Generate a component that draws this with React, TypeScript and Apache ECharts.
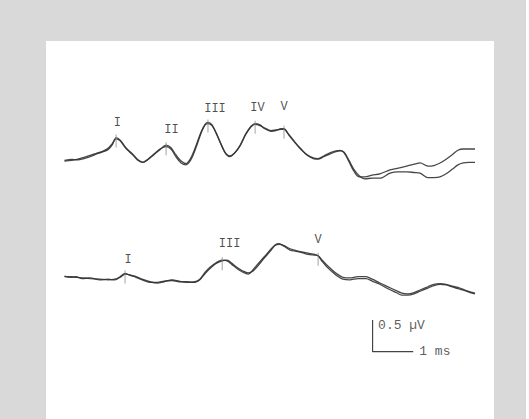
import React, { useEffect, useRef } from "react";
import * as echarts from "echarts";

// ---- data (time in ms, amplitude in µV relative to each trace's start) ----
const topTimes = [0, 0.18, 0.33, 0.48, 0.63, 0.78, 0.92, 1.07, 1.17, 1.27, 1.37, 1.51, 1.69, 1.81, 1.93, 2.05, 2.2, 2.35, 2.5, 2.62, 2.74, 2.87, 2.99, 3.11, 3.24, 3.36, 3.46, 3.53, 3.63, 3.75, 3.88, 3.97, 4.07, 4.19, 4.32, 4.46, 4.59, 4.69, 4.81, 4.93, 5.08, 5.2, 5.33, 5.4, 5.52, 5.67, 5.82, 5.97, 6.12, 6.24, 6.38, 6.53, 6.68, 6.78, 6.88, 7.0, 7.12, 7.25, 7.39, 7.57, 7.76, 8.01, 8.21, 8.42, 8.6, 8.75, 8.94, 9.09, 9.24, 9.39, 9.54, 9.68, 9.81, 9.95, 10.1];
const topRunA = [0, 0.016, 0.008, 0.03, 0.06, 0.1, 0.13, 0.17, 0.24, 0.36, 0.32, 0.2, 0.09, 0.01, -0.03, 0.01, 0.09, 0.17, 0.24, 0.2, 0.09, -0.01, -0.05, 0.04, 0.24, 0.45, 0.57, 0.6, 0.56, 0.4, 0.21, 0.1, 0.06, 0.12, 0.24, 0.42, 0.54, 0.58, 0.56, 0.5, 0.46, 0.47, 0.5, 0.5, 0.4, 0.28, 0.17, 0.09, 0.04, 0.03, 0.07, 0.12, 0.15, 0.16, 0.12, -0.02, -0.17, -0.26, -0.26, -0.23, -0.21, -0.15, -0.12, -0.09, -0.06, -0.04, -0.09, -0.08, -0.04, 0.02, 0.09, 0.16, 0.18, 0.18, 0.18];
const topRunB = [-0.01, 0.0, 0.02, 0.05, 0.08, 0.11, 0.14, 0.19, 0.26, 0.34, 0.31, 0.19, 0.08, 0.0, -0.03, 0.02, 0.1, 0.18, 0.22, 0.18, 0.06, -0.04, -0.07, 0.01, 0.21, 0.43, 0.56, 0.58, 0.55, 0.41, 0.22, 0.11, 0.07, 0.12, 0.23, 0.41, 0.53, 0.57, 0.55, 0.51, 0.47, 0.48, 0.49, 0.49, 0.41, 0.29, 0.18, 0.08, 0.03, 0.02, 0.06, 0.1, 0.14, 0.15, 0.13, 0.0, -0.14, -0.24, -0.29, -0.28, -0.28, -0.2, -0.18, -0.18, -0.19, -0.2, -0.27, -0.27, -0.26, -0.21, -0.14, -0.07, -0.04, -0.03, -0.03];

const bottomTimes = [0, 0.14, 0.28, 0.43, 0.63, 0.87, 1.07, 1.24, 1.37, 1.49, 1.61, 1.76, 1.91, 2.1, 2.28, 2.45, 2.65, 2.82, 3.01, 3.21, 3.33, 3.46, 3.58, 3.73, 3.88, 4.0, 4.12, 4.24, 4.39, 4.52, 4.64, 4.76, 4.91, 5.06, 5.18, 5.28, 5.4, 5.55, 5.7, 5.84, 5.99, 6.16, 6.24, 6.34, 6.46, 6.58, 6.71, 6.85, 7.02, 7.22, 7.42, 7.57, 7.76, 7.96, 8.16, 8.3, 8.45, 8.6, 8.75, 8.94, 9.09, 9.24, 9.39, 9.54, 9.68, 9.85, 9.98, 10.1];
const bottomRunA = [0, 0.0, -0.01, -0.02, -0.03, -0.04, -0.05, -0.04, 0.0, 0.05, 0.02, 0.0, -0.04, -0.08, -0.1, -0.08, -0.05, -0.07, -0.09, -0.08, -0.04, 0.07, 0.15, 0.22, 0.26, 0.25, 0.19, 0.13, 0.07, 0.04, 0.11, 0.2, 0.31, 0.42, 0.5, 0.52, 0.48, 0.42, 0.4, 0.38, 0.35, 0.34, 0.33, 0.26, 0.18, 0.11, 0.04, -0.01, -0.02, 0.0, 0.0, -0.04, -0.1, -0.16, -0.22, -0.26, -0.27, -0.25, -0.21, -0.16, -0.12, -0.11, -0.12, -0.15, -0.17, -0.21, -0.24, -0.26];
const bottomRunB = [0.01, -0.01, 0.0, -0.03, -0.02, -0.05, -0.04, -0.05, -0.01, 0.04, 0.03, -0.01, -0.05, -0.09, -0.09, -0.07, -0.06, -0.08, -0.08, -0.09, -0.05, 0.05, 0.13, 0.21, 0.25, 0.26, 0.21, 0.15, 0.09, 0.06, 0.09, 0.17, 0.29, 0.4, 0.49, 0.51, 0.49, 0.44, 0.41, 0.39, 0.37, 0.35, 0.33, 0.24, 0.15, 0.08, 0.01, -0.04, -0.05, -0.03, -0.03, -0.07, -0.12, -0.19, -0.25, -0.29, -0.29, -0.27, -0.23, -0.18, -0.14, -0.12, -0.13, -0.16, -0.19, -0.22, -0.25, -0.27];

// trace baselines on the shared amplitude axis (µV)
const TOP_BASE = 3.147;
const BOTTOM_BASE = 1.314;

// wave peaks
const topPeakNames = ["I", "II", "III", "IV", "V"];
const topPeakTimes = [1.27, 2.5, 3.53, 4.69, 5.4];
const topPeakAmps = [0.36, 0.24, 0.6, 0.58, 0.5];
const bottomPeakNames = ["I", "III", "V"];
const bottomPeakTimes = [1.49, 3.88, 6.24];
const bottomPeakAmps = [0.05, 0.26, 0.33];

// calibration bar
const scaleBarTime = 1; // ms
const scaleBarAmp = 0.5; // µV
const scaleBarStart = [7.58, 0.131];
const scaleLabels = ["0.5 µV", "1 ms"];

// layout only (pixel shifts of the peak labels)
const topLabelShift = [[1.3, -14.5], [5.4, -15.5], [7, -13.5], [2.3, -15.5], [0, -21.5]];
const bottomLabelShift = [[3, -14], [7.4, -16], [0, -16]];

const FONT = "'Liberation Mono', 'DejaVu Sans Mono', monospace";
const TRACE = { color: "#333333", width: 1.3, opacity: 0.9 };

function trace(times: number[], vals: number[], base: number) {
  return {
    type: "line",
    data: times.map((t, i) => [t, base + vals[i]]),
    showSymbol: false,
    smooth: 0.3,
    silent: true,
    lineStyle: TRACE,
    z: 2,
  };
}

export default function App() {
  const ref = useRef<HTMLDivElement>(null);
  useEffect(() => {
    document.body.style.margin = "0";
    if (!ref.current) return;
    const chart = echarts.init(ref.current, undefined, { renderer: "svg" });

    const tickData = [
      ...topPeakTimes.map((t, i) => [t, TOP_BASE + topPeakAmps[i]]),
      ...bottomPeakTimes.map((t, i) => [t, BOTTOM_BASE + bottomPeakAmps[i]]),
    ];
    const labelData = [
      ...topPeakNames.map((n, i) => ({
        name: n,
        value: [topPeakTimes[i], TOP_BASE + topPeakAmps[i]],
        label: { offset: topLabelShift[i] },
      })),
      ...bottomPeakNames.map((n, i) => ({
        name: n,
        value: [bottomPeakTimes[i], BOTTOM_BASE + bottomPeakAmps[i]],
        label: { offset: bottomLabelShift[i] },
      })),
    ];
    const [sx, sy] = scaleBarStart;

    const option = {
      animation: false,
      backgroundColor: "#d9d9d9",
      graphic: [
        { type: "rect", z: -10, shape: { x: 46, y: 41, width: 448, height: 378 }, style: { fill: "#ffffff" } },
        { type: "rect", z: -10, shape: { x: 526, y: 0, width: 3, height: 419 }, style: { fill: "#ffffff" } },
      ],
      grid: { left: 64.5, right: 54, top: 100, bottom: 59 },
      xAxis: { type: "value", min: 0, max: 10.1, show: false },
      yAxis: { type: "value", min: 0, max: 4.1, show: false },
      series: [
        trace(topTimes, topRunA, TOP_BASE),
        trace(topTimes, topRunB, TOP_BASE),
        trace(bottomTimes, bottomRunA, BOTTOM_BASE),
        trace(bottomTimes, bottomRunB, BOTTOM_BASE),
        {
          type: "scatter",
          symbol: "rect",
          symbolSize: [1, 13],
          symbolOffset: [0, 3.5],
          itemStyle: { color: "#8c8c8c" },
          data: tickData,
          silent: true,
          z: 3,
        },
        {
          type: "scatter",
          symbolSize: 1,
          itemStyle: { color: "rgba(0,0,0,0)" },
          data: labelData,
          silent: true,
          z: 4,
          label: {
            show: true,
            position: "inside",
            formatter: (p: any) => p.name,
            fontFamily: FONT,
            fontSize: 12,
            color: "#1e1e1e",
            textBorderWidth: 0,
          },
        },
        {
          type: "line",
          data: [
            [sx, sy + scaleBarAmp],
            [sx, sy],
            [sx + scaleBarTime, sy],
          ],
          showSymbol: false,
          silent: true,
          lineStyle: { color: "#444444", width: 1.2 },
          z: 2,
        },
        {
          type: "scatter",
          symbolSize: 1,
          itemStyle: { color: "rgba(0,0,0,0)" },
          silent: true,
          data: [
            { name: scaleLabels[0], value: [sx, sy + scaleBarAmp - 0.08], label: { distance: 5 } },
            { name: scaleLabels[1], value: [sx + scaleBarTime, sy], label: { distance: 5.5 } },
          ],
          label: {
            show: true,
            position: "right",
            formatter: (p: any) => p.name,
            fontFamily: FONT,
            fontSize: 13,
            color: "#333333",
          },
        },
      ],
    };
    chart.setOption(option as any);
    return () => chart.dispose();
  }, []);
  return <div ref={ref} style={{ width: 529, height: 419 }} />;
}
